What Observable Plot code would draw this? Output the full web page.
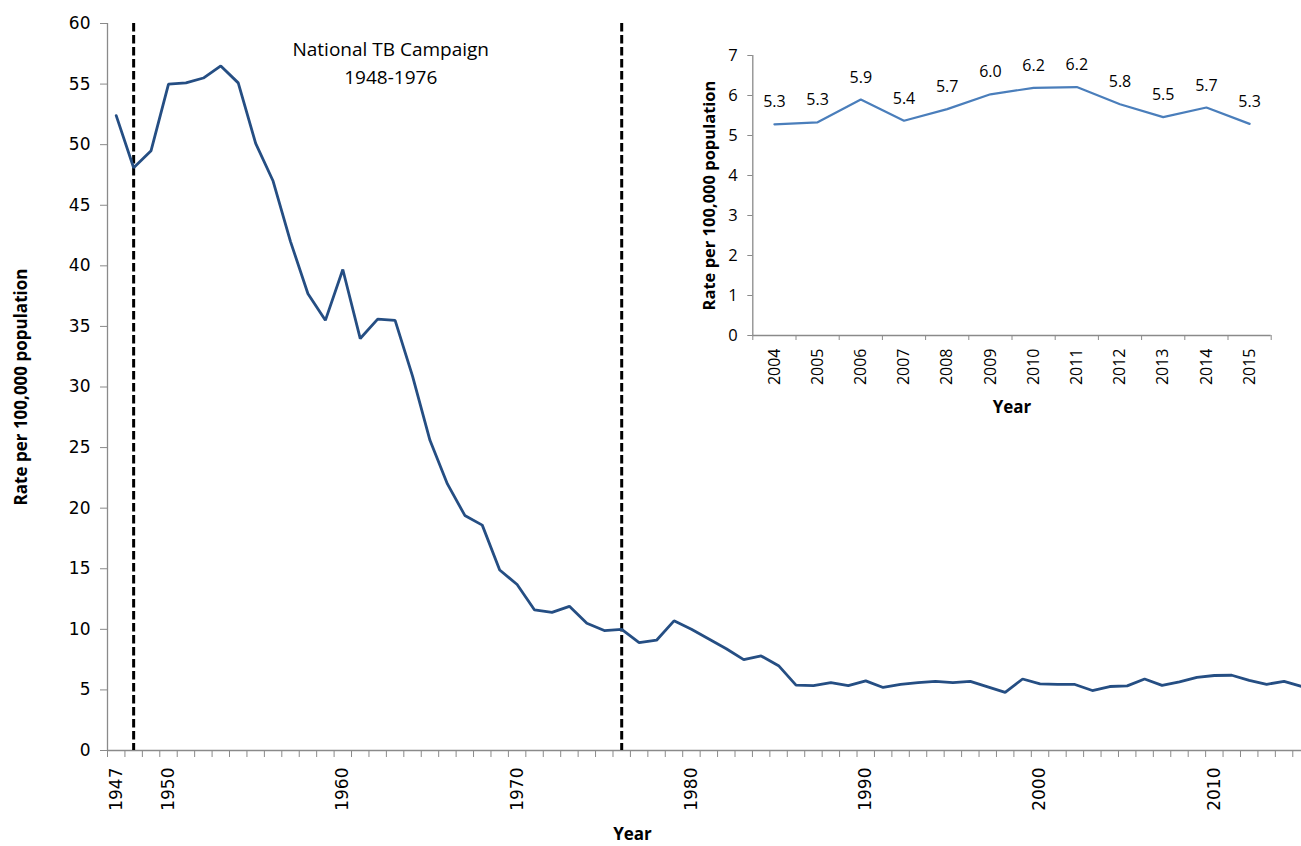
<!DOCTYPE html>
<html>
<head>
<meta charset="utf-8">
<script src="https://cdn.jsdelivr.net/npm/d3@7"></script>
<script src="https://cdn.jsdelivr.net/npm/@observablehq/plot@0.6"></script>
<style>
  html, body { margin: 0; padding: 0; background: #fff; }
  #wrap { position: relative; width: 1301px; height: 846px; overflow: hidden; }
  #inset { position: absolute; left: 690px; top: 15px; }
</style>
</head>
<body>
<div id="wrap"><div id="main"></div><div id="inset"></div></div>
<script>
// ---------- data ----------
const years = d3.range(1947, 2016);
const rates = [
  52.4, 48.1, 49.5, 55.0, 55.1, 55.5, 56.5, 55.1, 50.1, 47.0,
  42.0, 37.7, 35.5, 39.7, 34.0, 35.6, 35.5, 30.9, 25.6, 22.0,
  19.4, 18.6, 14.9, 13.7, 11.6, 11.4, 11.9, 10.5, 9.9, 10.0,
  8.9, 9.1, 10.7, 10.0, 9.2, 8.4, 7.5, 7.8, 7.0, 5.4,
  5.35, 5.6, 5.35, 5.75, 5.2, 5.45, 5.6, 5.7, 5.6, 5.7,
  5.25, 4.8, 5.9, 5.5, 5.45, 5.45, 4.95, 5.28, 5.33, 5.9,
  5.37, 5.66, 6.03, 6.19, 6.21, 5.78, 5.46, 5.7, 5.29
];
const campaignYears = [1948, 1976];
const annotationText = "National TB Campaign\n1948-1976";
const annotationPos = [{year: 1962.75, rate: 56.9}];
const mainXLabels = [1947, 1950, 1960, 1970, 1980, 1990, 2000, 2010];
const mainYTicks = d3.range(0, 61, 5);

const insetYears = d3.range(2004, 2016);
const insetRates = [5.28, 5.33, 5.9, 5.37, 5.66, 6.03, 6.19, 6.21, 5.78, 5.46, 5.7, 5.29];
const insetYTicks = d3.range(0, 8, 1);

const yTitle = "Rate per 100,000 population";
const xTitle = "Year";

// ---------- tables ----------
const mainData = years.map((y, i) => ({year: y, rate: rates[i]}));
const insetData = insetYears.map((y, i) => ({year: y, rate: insetRates[i]}));
const mainBounds = d3.range(years[0] - 0.5, years[years.length - 1], 1);
const insetBounds = d3.range(insetYears[0] - 0.5, insetYears[insetYears.length - 1] + 1, 1);
const fmt1 = d3.format(".1f");

const axisGrey = "#8a8a8a";

// ---------- main chart ----------
const main = Plot.plot({
  width: 1301, height: 846,
  marginLeft: 107, marginRight: 0, marginTop: 23, marginBottom: 96,
  x: {domain: [years[0] - 0.5, years[years.length - 1]], label: null},
  y: {domain: [0, 60], label: null},
  style: {fontFamily: "DejaVu Sans", fontSize: "17px", color: "#000", background: "transparent", overflow: "visible"},
  marks: [
    Plot.axisY({ticks: mainYTicks, tickSize: 7, tickPadding: 10, tickFormat: d => String(d), stroke: axisGrey, fill: "#000", label: null, fontSize: 17}),
    Plot.axisX({ticks: mainBounds, tickSize: 7, tickFormat: () => "", stroke: axisGrey, label: null}),
    Plot.axisX({ticks: mainXLabels, tickSize: 0, tickPadding: 17, tickRotate: -90, tickFormat: d => String(d), fill: "#000", label: null, fontSize: 17}),
    Plot.ruleY([0], {stroke: axisGrey, strokeWidth: 1.3}),
    Plot.ruleX([years[0] - 0.5], {stroke: axisGrey, strokeWidth: 1.3}),
    Plot.ruleX(campaignYears, {stroke: "#000", strokeWidth: 3, strokeDasharray: "8.5,3.5"}),
    Plot.line(mainData, {x: "year", y: "rate", stroke: "#254E83", strokeWidth: 2.8, strokeLinejoin: "miter"}),
    Plot.text(annotationPos, {x: "year", y: "rate", text: () => annotationText, fontSize: 19, fontFamily: "Open Sans", lineHeight: 1.45, fill: "#000"}),
    Plot.text([yTitle], {frameAnchor: "left", textAnchor: "middle", lineAnchor: "middle", rotate: -90, dx: -86, fontWeight: "bold", fontSize: 17, fontFamily: "Open Sans", fill: "#000"}),
    Plot.text([xTitle], {frameAnchor: "bottom", textAnchor: "middle", lineAnchor: "middle", dx: -72, dy: 84, fontWeight: "bold", fontSize: 17, fontFamily: "Open Sans", fill: "#000"})
  ]
});
document.getElementById("main").appendChild(main);

// ---------- inset chart ----------
const inset = Plot.plot({
  width: 600, height: 410,
  marginLeft: 62.3, marginRight: 19.3, marginTop: 40, marginBottom: 90,
  x: {domain: [insetYears[0] - 0.5, insetYears[insetYears.length - 1] + 0.5], label: null},
  y: {domain: [0, 7], label: null},
  style: {fontFamily: "Open Sans", fontSize: "16px", color: "#000", background: "transparent", overflow: "visible"},
  marks: [
    Plot.axisY({ticks: insetYTicks, tickSize: 5, tickPadding: 10, tickFormat: d => String(d), stroke: axisGrey, fill: "#000", label: null, fontSize: 16.5}),
    Plot.axisX({ticks: insetBounds, tickSize: 5, tickFormat: () => "", stroke: axisGrey, label: null}),
    Plot.axisX({ticks: insetYears, tickSize: 0, tickPadding: 13, tickRotate: -90, tickFormat: d => String(d), fill: "#000", label: null, fontSize: 16}),
    Plot.ruleY([0], {stroke: axisGrey, strokeWidth: 1.3}),
    Plot.ruleX([insetYears[0] - 0.5], {stroke: axisGrey, strokeWidth: 1.3}),
    Plot.line(insetData, {x: "year", y: "rate", stroke: "#4A7EBB", strokeWidth: 2.2}),
    Plot.text(insetData, {x: "year", y: "rate", text: d => fmt1(d.rate), dy: -22, fontSize: 16, fill: "#000"}),
    Plot.text([yTitle], {frameAnchor: "left", textAnchor: "middle", lineAnchor: "middle", rotate: -90, dx: -43, fontWeight: "bold", fontSize: 16.5, fill: "#000"}),
    Plot.text([xTitle], {frameAnchor: "bottom", textAnchor: "middle", lineAnchor: "middle", dy: 72, fontWeight: "bold", fontSize: 17, fill: "#000"})
  ]
});
document.getElementById("inset").appendChild(inset);
</script>
</body>
</html>
